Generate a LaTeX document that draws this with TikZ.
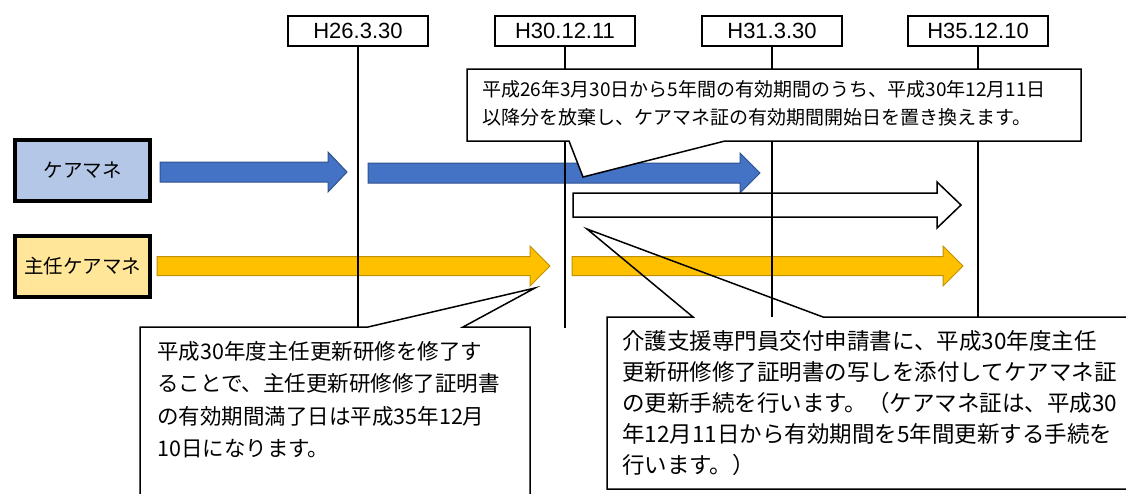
\documentclass[tikz,border=0pt]{standalone}
\usepackage{fontspec}
\setmainfont{Liberation Sans}
\newfontfamily\jpfont{Noto Sans CJK JP}
\definecolor{arrowblue}{HTML}{4472C4}
\definecolor{arrowblueedge}{HTML}{2F528F}
\definecolor{arroworange}{HTML}{FFC000}
\definecolor{arroworangeedge}{HTML}{BF9000}
\definecolor{boxblue}{HTML}{B4C7E7}
\definecolor{boxyellow}{HTML}{FFE699}
\newcommand\blockarrow[7]{%
  \draw[#1] ({#2},{#4-#5}) -- ({#3-#7},{#4-#5}) -- ({#3-#7},{#4-#6}) -- ({#3},{#4}) -- ({#3-#7},{#4+#6}) -- ({#3-#7},{#4+#5}) -- ({#2},{#4+#5}) -- cycle;}
\begin{document}
\begin{tikzpicture}[x=1pt,y=-1pt,
  datebox/.style={draw,line width=1.8pt,minimum width=140pt,minimum height=30pt,inner sep=0pt,font=\fontsize{22}{22}\selectfont},
  rolebox/.style={draw,line width=4pt,minimum width=135pt,minimum height=61pt,inner sep=0pt,font=\jpfont\fontsize{19.5}{19.5}\selectfont},
  vline/.style={line width=2pt},
  bluearrow/.style={fill=arrowblue,draw=arrowblueedge,line width=1pt},
  orangearrow/.style={fill=arroworange,draw=arroworangeedge,line width=1pt},
  whitearrow/.style={fill=white,draw=black,line width=1.5pt},
  callout/.style={fill=white,draw=black,line width=1.5pt,line join=miter},
  opencallout/.style={draw=black,line width=1.5pt,line join=miter},
  note/.style={anchor=north west,inner sep=0pt,align=left}
]
\useasboundingbox (0,0) rectangle (1126,493);
% block arrows
\blockarrow{bluearrow}{160}{347}{172}{10}{20}{19}
\blockarrow{bluearrow}{368}{760}{173}{10}{20}{20}
\blockarrow{whitearrow}{573}{961}{205}{12}{23}{24}
\blockarrow{orangearrow}{157}{550}{266}{9.5}{20}{20}
\blockarrow{orangearrow}{572}{963}{266}{9.5}{20}{20}
% date boxes
\node[datebox] (d1) at (358,31) {H26.3.30};
\node[datebox] (d2) at (565,31) {H30.12.11};
\node[datebox] (d3) at (772,31) {H31.3.30};
\node[datebox] (d4) at (978,31) {H35.12.10};
\coordinate (e1) at (358,327);
\coordinate (e2) at (565,328);
\coordinate (e3) at (772,317);
\coordinate (e4) at (978,317);
\draw[vline] (d1.south) -- (e1);
\draw[vline] (d2.south) -- (e2);
\draw[vline] (d3.south) -- (e3);
\draw[vline] (d4.south) -- (e4);
% role boxes
\node[rolebox,fill=boxblue] (cm) at (82.5,170.5) {ケアマネ};
\node[rolebox,fill=boxyellow] (scm) at (82.5,266) {主任ケアマネ};
% callouts
\draw[callout] (467,69) -- (1081,69) -- (1081,141) -- (725,141) -- (583,177) -- (569,141) -- (467,141) -- cycle;
\node[note,font=\jpfont\fontsize{19}{28}\selectfont] (t1) at (482,80.5) {平成26年3月30日から5年間の有効期間のうち、平成30年12月11日\\以降分を放棄し、ケアマネ証の有効期間開始日を置き換えます。};
\draw[callout] (140,510) -- (140,327) -- (368,327) -- (535,288) -- (463,327) -- (530,327) -- (530,510) -- cycle;
\node[note,font=\jpfont\fontsize{21.5}{32.5}\selectfont] (t2) at (157,341) {平成30年度主任更新研修を修了す\\ることで、主任更新研修修了証明書\\の有効期間満了日は平成35年12月\\10日になります。};
\draw[opencallout] (607,489) -- (607,317) -- (693,317) -- (587,229) -- (823,317) -- (1140,317) -- (1140,489) -- cycle;
\node[note,font=\jpfont\fontsize{22.5}{31}\selectfont] (t3) at (622,330) {介護支援専門員交付申請書に、平成30年度主任\\更新研修修了証明書の写しを添付してケアマネ証\\の更新手続を行います。（ケアマネ証は、平成30\\年12月11日から有効期間を5年間更新する手続を\\行います。）};
\end{tikzpicture}
\end{document}
